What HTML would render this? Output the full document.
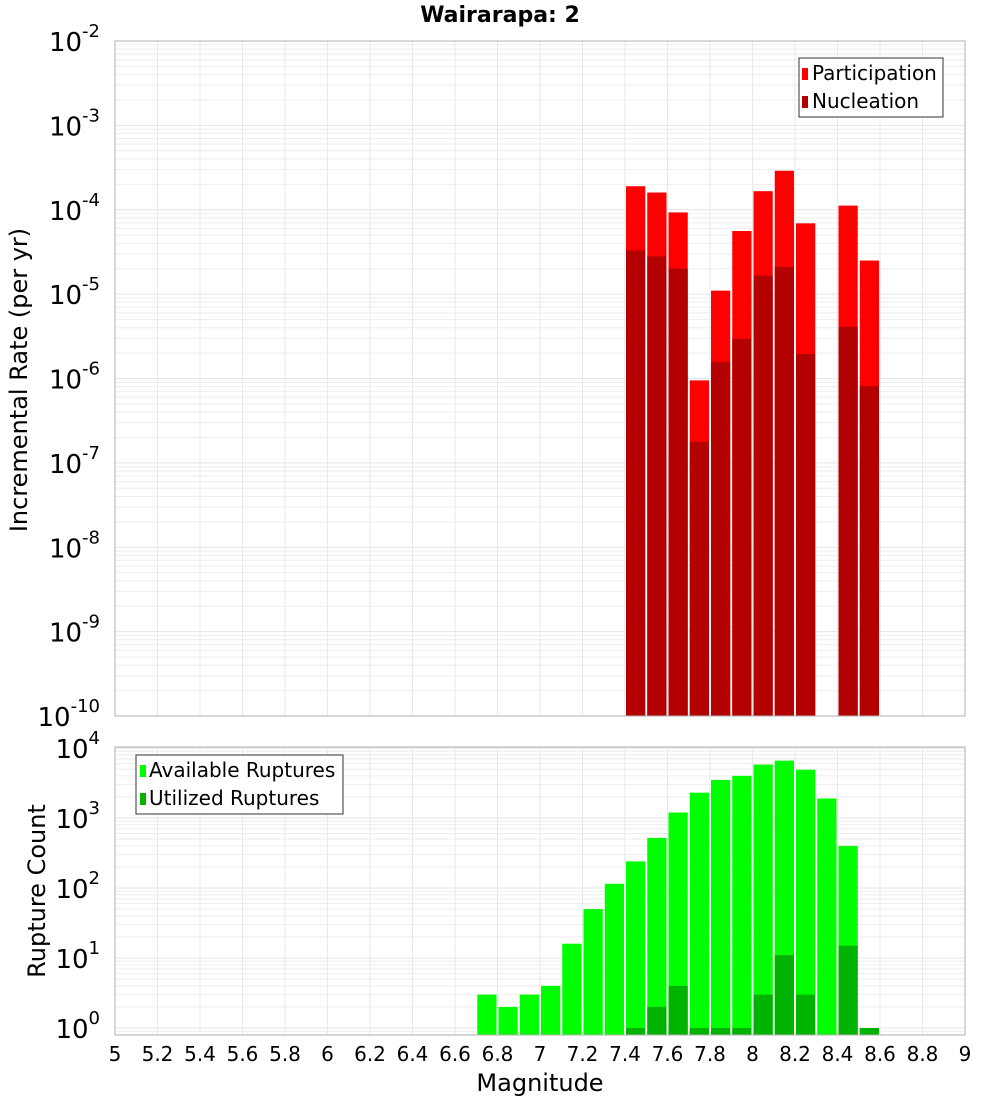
<!DOCTYPE html>
<html><head><meta charset="utf-8"><style>
body{margin:0;background:#fff;}
svg{display:block;font-family:"DejaVu Sans","Liberation Sans",sans-serif;}
</style></head><body>
<svg id="c" width="1000" height="1100" viewBox="0 0 1000 1100"></svg>
<script>
const bins=[5.05,5.15,5.25,5.35,5.45,5.55,5.65,5.75,5.85,5.95,6.05,6.15,6.25,6.35,6.45,6.55,6.65,6.75,6.85,6.95,7.05,7.15,7.25,7.35,7.45,7.55,7.65,7.75,7.85,7.95,8.05,8.15,8.25,8.35,8.45,8.55];
const rateMags=[7.45,7.55,7.65,7.75,7.85,7.95,8.05,8.15,8.25,8.45,8.55];
const participation=[1.9e-4,1.6e-4,9.3e-5,9.5e-7,1.1e-5,5.6e-5,1.66e-4,2.9e-4,6.9e-5,1.12e-4,2.5e-5];
const nucleation=[3.3e-5,2.8e-5,2.0e-5,1.78e-7,1.58e-6,2.95e-6,1.66e-5,2.1e-5,1.95e-6,4.1e-6,8.1e-7];
const countMags=[6.75,6.85,6.95,7.05,7.15,7.25,7.35,7.45,7.55,7.65,7.75,7.85,7.95,8.05,8.15,8.25,8.35,8.45,8.55];
const available=[3,2,3,4,16,50,115,240,520,1200,2300,3500,4000,5800,6600,4900,1900,400,1];
const utilizedMags=[7.45,7.55,7.65,7.75,7.85,7.95,8.05,8.15,8.25,8.45,8.55];
const utilized=[1,2,4,1,1,1,3,11,3,15,1];
const xTicks=[5,5.2,5.4,5.6,5.8,6,6.2,6.4,6.6,6.8,7,7.2,7.4,7.6,7.8,8,8.2,8.4,8.6,8.8,9];
const topExp=[-2,-3,-4,-5,-6,-7,-8,-9,-10];
const botExp=[4,3,2,1,0];

const NS='http://www.w3.org/2000/svg',svg=document.getElementById('c');
function el(t,a,p){const e=document.createElementNS(NS,t);for(const k in a)e.setAttribute(k,a[k]);(p||svg).appendChild(e);return e;}
const X0=115,X1=965;
const xs=m=>X0+(m-5)/4*(X1-X0);
const yTop=v=>41+(-2-Math.log10(v))*84.375;
const yBot=v=>748+(4-Math.log10(v))*70;
const T1=41,B1=716,T2=747,B2=1035;

function grid(top,bot,ysc,eFrom,eTo){
  for(let e=eFrom;e<eTo;e++)for(let k=1;k<10;k++){const y=ysc(k*Math.pow(10,e));if(y<top||y>bot)continue;
    const l=el('line',{x1:X0,x2:X1,y1:y,y2:y,stroke:k==1?'#e4e4e4':'#eeeeee','stroke-width':1});
    }
  xTicks.forEach(t=>{const l=el('line',{x1:xs(t),x2:xs(t),y1:top,y2:bot,stroke:'#e8e8e8'});
    });
}
grid(T1,B1,yTop,-10,-1);
grid(T2,B2,yBot,-1,5);

const w=(X1-X0)/40;
function bar(m,v,ysc,bot,fill,name){const y=Math.max(ysc(v),0);
  const r=el('rect',{x:xs(m)-w/2+1,y:y,width:w-2,height:bot-y,fill:fill});
  }
rateMags.forEach((m,i)=>bar(m,participation[i],yTop,B1,'#ff0000','participation-bar'));
rateMags.forEach((m,i)=>bar(m,nucleation[i],yTop,B1,'#b30000','nucleation-bar'));
countMags.forEach((m,i)=>bar(m,available[i],yBot,B2,'#00ff00','available-bar'));
utilizedMags.forEach((m,i)=>bar(m,utilized[i],yBot,B2,'#00b300','utilized-bar'));

el('rect',{x:X0,y:T1,width:X1-X0,height:B1-T1,fill:'none',stroke:'#b0b0b0',});
el('rect',{x:X0,y:T2,width:X1-X0,height:B2-T2,fill:'none',stroke:'#b0b0b0',});

function ylab(e,y,name){const t=el('text',{x:100,y:y+10,'text-anchor':'end','font-size':26,fill:'#000'});
  
  t.appendChild(document.createTextNode('10'));
  const s=el('tspan',{dy:-14,'font-size':18},t);s.textContent=String(e);}
topExp.forEach(e=>ylab(e,yTop(Math.pow(10,e)),'y-tick-label-top'));
botExp.forEach(e=>ylab(e,yBot(Math.pow(10,e)),'y-tick-label-bottom'));
xTicks.forEach(t=>{const tx=el('text',{x:xs(t),y:1061,'text-anchor':'middle','font-size':20});
  tx.textContent=String(t);});
</script>
<svg style="position:absolute;left:0;top:0" width="1000" height="1100">
<text x="500" y="22" text-anchor="middle" font-size="22" font-weight="bold" font-family="DejaVu Sans,Liberation Sans,sans-serif">Wairarapa: 2</text>
<text transform="translate(27,380) rotate(-90)" text-anchor="middle" font-size="24" font-family="DejaVu Sans,Liberation Sans,sans-serif">Incremental Rate (per yr)</text>
<text transform="translate(45,891) rotate(-90)" text-anchor="middle" font-size="24" font-family="DejaVu Sans,Liberation Sans,sans-serif">Rupture Count</text>
<text x="540" y="1091" text-anchor="middle" font-size="24" font-family="DejaVu Sans,Liberation Sans,sans-serif">Magnitude</text>
<g font-family="DejaVu Sans,Liberation Sans,sans-serif" font-size="20">
<rect x="799" y="58" width="144" height="59" fill="#fff" stroke="#333"/>
<rect x="802" y="68" width="6" height="12" fill="#ff0000"/>
<text x="812" y="80">Participation</text>
<rect x="802" y="96" width="6" height="12" fill="#b30000"/>
<text x="812" y="108">Nucleation</text>
</g>
<g font-family="DejaVu Sans,Liberation Sans,sans-serif" font-size="20">
<rect x="136" y="755" width="207" height="59" fill="#fff" stroke="#333"/>
<rect x="140" y="765" width="6" height="12" fill="#00ff00"/>
<text x="149" y="777">Available Ruptures</text>
<rect x="140" y="793" width="6" height="12" fill="#00b300"/>
<text x="149" y="805">Utilized Ruptures</text>
</g>
</svg>
</body></html>
